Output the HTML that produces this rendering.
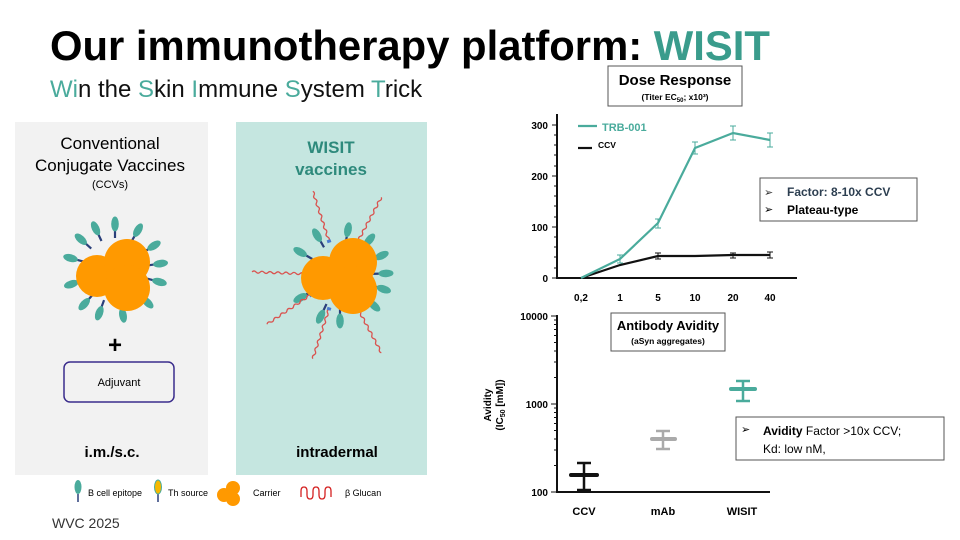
<!DOCTYPE html>
<html><head><meta charset="utf-8"><style>
body{margin:0;width:960px;height:540px;background:#fff;font-family:"Liberation Sans",sans-serif;overflow:hidden}
svg{position:absolute;left:0;top:0}
</style></head><body>
<svg width="960" height="540" viewBox="0 0 960 540" font-family="Liberation Sans, sans-serif">
<defs>
<g id="ep"><line x1="0" y1="-32" x2="0" y2="-40" stroke="#2a3f7a" stroke-width="2.2"/><ellipse cx="0" cy="-46" rx="3.8" ry="7.5" fill="#4aab9c"/></g>
<g id="gl"><path d="M0,-36 q2,-2 0,-4 q-2,-2 0,-4 q2,-2 0,-4 q-2,-2 0,-4 q2,-2 0,-4 q-2,-2 0,-4 q2,-2 0,-4 q-2,-2 0,-4 q2,-2 0,-4 q-2,-2 0,-4 q2,-2 0,-4 q-2,-2 0,-4 q2,-2 0,-4" fill="none" stroke="#d9534f" stroke-width="1.3"/><rect x="-2" y="-37" width="4" height="3" fill="#4a7bd0"/></g>
</defs>
<text x="50" y="60" font-size="41.8" font-weight="bold" fill="#000">Our immunotherapy platform: <tspan fill="#3a9c8c">WISIT</tspan></text>
<text x="50" y="97" font-size="24" fill="#111"><tspan fill="#4aab9c">Wi</tspan>n the <tspan fill="#4aab9c">S</tspan>kin <tspan fill="#4aab9c">I</tspan>mmune <tspan fill="#4aab9c">S</tspan>ystem <tspan fill="#4aab9c">T</tspan>rick</text>
<rect x="15" y="122" width="193" height="353" fill="#f2f2f2"/>
<rect x="236" y="122" width="191" height="353" fill="#c5e6e0"/>
<g text-anchor="middle">
<text x="110" y="149" font-size="17">Conventional</text>
<text x="110" y="171" font-size="17">Conjugate Vaccines</text>
<text x="110" y="188" font-size="11">(CCVs)</text>
<text x="115" y="353" font-size="24" font-weight="bold">+</text>
<text x="119" y="386" font-size="11">Adjuvant</text>
<text x="112" y="457" font-size="15" font-weight="bold">i.m./s.c.</text>
<text x="331" y="153" font-size="17" font-weight="bold" fill="#2e8a7c">WISIT</text>
<text x="331" y="175" font-size="17" font-weight="bold" fill="#2e8a7c">vaccines</text>
<text x="337" y="457" font-size="15" font-weight="bold">intradermal</text>
</g>
<rect x="64" y="362" width="110" height="40" rx="6" fill="none" stroke="#3b2d8c" stroke-width="1.5"/>
<g transform="translate(115,270)">
<use href="#ep" transform="rotate(0)"/><use href="#ep" transform="rotate(30)"/><use href="#ep" transform="rotate(58)"/><use href="#ep" transform="rotate(82)"/><use href="#ep" transform="rotate(105)"/><use href="#ep" transform="rotate(135)"/><use href="#ep" transform="rotate(170)"/><use href="#ep" transform="rotate(200)"/><use href="#ep" transform="rotate(222)"/><use href="#ep" transform="rotate(252)"/><use href="#ep" transform="rotate(285)"/><use href="#ep" transform="rotate(312)"/><use href="#ep" transform="rotate(335)"/>
<circle cx="-18" cy="6" r="21" fill="#ff9900"/><circle cx="12" cy="-8" r="23" fill="#ff9900"/><circle cx="12" cy="18" r="23" fill="#ff9900"/>
</g>
<g transform="translate(340,275)">
<use href="#ep" transform="rotate(10)"/><use href="#ep" transform="rotate(40)"/><use href="#ep" transform="rotate(65)"/><use href="#ep" transform="rotate(88)"/><use href="#ep" transform="rotate(108)"/><use href="#ep" transform="rotate(132)"/><use href="#ep" transform="rotate(180)"/><use href="#ep" transform="rotate(205)"/><use href="#ep" transform="rotate(240)"/><use href="#ep" transform="rotate(300)"/><use href="#ep" transform="rotate(330)"/>
<use href="#gl" transform="rotate(-18)"/><use href="#gl" transform="rotate(28)"/><use href="#gl" transform="rotate(152)"/><use href="#gl" transform="rotate(198)"/><use href="#gl" transform="rotate(236)"/><use href="#gl" transform="rotate(272)"/>
<circle cx="-17" cy="3" r="22" fill="#ff9900"/><circle cx="13" cy="-13" r="24" fill="#ff9900"/><circle cx="13" cy="15" r="24" fill="#ff9900"/>
</g>
<line x1="78" y1="494" x2="78" y2="502" stroke="#2a3f7a" stroke-width="1.5"/><ellipse cx="78" cy="487" rx="3.5" ry="7" fill="#4aab9c"/>
<text x="88" y="496" font-size="9">B cell epitope</text>
<line x1="158" y1="494" x2="158" y2="502" stroke="#2a3f7a" stroke-width="1.5"/><ellipse cx="158" cy="487" rx="3.5" ry="7" fill="#f5b800" stroke="#4aab9c" stroke-width="1"/>
<text x="168" y="496" font-size="9">Th source</text>
<circle cx="224" cy="495" r="7" fill="#ff9900"/><circle cx="233" cy="488" r="7" fill="#ff9900"/><circle cx="233" cy="499" r="7" fill="#ff9900"/>
<text x="253" y="496" font-size="9">Carrier</text>
<path d="M301,497 v-6 q0,-4 3,-4 q3,0 3,4 v4 q0,4 3,4 q3,0 3,-4 v-4 q0,-4 3,-4 q3,0 3,4 v4 q0,4 3,4 q3,0 3,-4 v-4 q0,-4 3,-4 q3,0 3,4 v6" fill="none" stroke="#d42020" stroke-width="1.3"/>
<text x="345" y="496" font-size="9">β Glucan</text>
<text x="52" y="528" font-size="14" fill="#333">WVC 2025</text>

<rect x="608" y="66" width="134" height="40" fill="#fff" stroke="#555" stroke-width="1"/>
<text x="675" y="85" font-size="15" font-weight="bold" text-anchor="middle">Dose Response</text>
<text x="675" y="100" font-size="8.5" font-weight="bold" text-anchor="middle">(Titer EC<tspan font-size="6" dy="2">50</tspan><tspan dy="-2">; x10³)</tspan></text>
<g stroke="#111" stroke-width="2">
<line x1="557" y1="114" x2="557" y2="279"/><line x1="556" y1="278" x2="797" y2="278"/>
</g>
<g stroke="#111" stroke-width="1">
<line x1="552" y1="125" x2="557" y2="125"/><line x1="552" y1="176" x2="557" y2="176"/><line x1="552" y1="227" x2="557" y2="227"/><line x1="552" y1="278" x2="557" y2="278"/>
<line x1="554" y1="135" x2="557" y2="135"/><line x1="554" y1="145" x2="557" y2="145"/><line x1="554" y1="155" x2="557" y2="155"/><line x1="554" y1="166" x2="557" y2="166"/><line x1="554" y1="186" x2="557" y2="186"/><line x1="554" y1="196" x2="557" y2="196"/><line x1="554" y1="206" x2="557" y2="206"/><line x1="554" y1="217" x2="557" y2="217"/><line x1="554" y1="237" x2="557" y2="237"/><line x1="554" y1="247" x2="557" y2="247"/><line x1="554" y1="257" x2="557" y2="257"/><line x1="554" y1="268" x2="557" y2="268"/>
</g>
<g font-size="10" font-weight="bold" text-anchor="end"><text x="548" y="129">300</text><text x="548" y="180">200</text><text x="548" y="231">100</text><text x="548" y="282">0</text></g>
<g font-size="10" font-weight="bold" text-anchor="middle"><text x="581" y="301">0,2</text><text x="620" y="301">1</text><text x="658" y="301">5</text><text x="695" y="301">10</text><text x="733" y="301">20</text><text x="770" y="301">40</text></g>
<polyline points="581,278 620,265 658,256 695,256 733,255 770,255" fill="none" stroke="#111" stroke-width="2.2"/>
<polyline points="581,278 620,259 658,223 695,148 733,133 770,140" fill="none" stroke="#4aab9c" stroke-width="2.2"/>
<g stroke="#4aab9c" stroke-width="1"><path d="M620,255v8M617,255h6M617,263h6M658,219v9M655,219h6M655,228h6M695,142v12M692,142h6M692,154h6M733,126v14M730,126h6M730,140h6M770,133v14M767,133h6M767,147h6"/></g>
<g stroke="#111" stroke-width="1"><path d="M658,253v6M655,253h6M655,259h6M733,253v5M730,253h6M730,258h6M770,252v6M767,252h6M767,258h6"/></g>
<line x1="578" y1="126" x2="597" y2="126" stroke="#4aab9c" stroke-width="2.2"/>
<text x="602" y="131" font-size="11" fill="#4aab9c" font-weight="bold">TRB-001</text>
<line x1="578" y1="148" x2="592" y2="148" stroke="#111" stroke-width="2.2"/>
<text x="598" y="148" font-size="8.5" font-weight="bold">CCV</text>
<rect x="760" y="178" width="157" height="43" fill="#fff" stroke="#555" stroke-width="1"/>
<text x="764" y="196" font-size="11" fill="#333">➢</text><text x="787" y="196" font-size="12" font-weight="bold" fill="#2c3e50">Factor: 8-10x CCV</text>
<text x="764" y="213" font-size="11">➢</text><text x="787" y="214" font-size="12" font-weight="bold">Plateau-type</text>

<g stroke="#111" stroke-width="2"><line x1="557" y1="315" x2="557" y2="493"/><line x1="556" y1="492" x2="770" y2="492"/></g>
<g stroke="#111" stroke-width="1">
<path d="M551,316h6M551,404h6M551,492h6M554,465.5h3M554,450h3M554,439h3M554,430.5h3M554,423.5h3M554,417.5h3M554,412.5h3M554,408h3M554,377.5h3M554,362h3M554,351h3M554,342.5h3M554,335.5h3M554,329.5h3M554,324.5h3M554,320h3"/>
</g>
<g font-size="10" font-weight="bold" text-anchor="end"><text x="548" y="320">10000</text><text x="548" y="408">1000</text><text x="548" y="496">100</text></g>
<text transform="translate(491,405) rotate(-90)" font-size="10" font-weight="bold" text-anchor="middle">Avidity</text>
<text transform="translate(503,405) rotate(-90)" font-size="10" font-weight="bold" text-anchor="middle">(IC<tspan font-size="7" dy="2">50</tspan><tspan dy="-2"> [mM])</tspan></text>
<g font-size="11" font-weight="bold" text-anchor="middle"><text x="584" y="515">CCV</text><text x="663" y="515">mAb</text><text x="742" y="515">WISIT</text></g>
<g stroke="#111" stroke-width="2.5"><path d="M584,463v27M577,463h14M577,490h14"/><line x1="571" y1="475" x2="597" y2="475" stroke-width="4" stroke-linecap="round"/></g>
<g stroke="#aaa" stroke-width="2.5"><path d="M663,431v18M656,431h14M656,449h14"/><line x1="652" y1="439" x2="675" y2="439" stroke-width="4" stroke-linecap="round"/></g>
<g stroke="#4aab9c" stroke-width="2.5"><path d="M743,381v20M736,381h14M736,401h14"/><line x1="731" y1="389" x2="755" y2="389" stroke-width="4" stroke-linecap="round"/></g>
<rect x="611" y="313" width="114" height="38" fill="#fff" stroke="#555" stroke-width="1"/>
<text x="668" y="330" font-size="13" font-weight="bold" text-anchor="middle">Antibody Avidity</text>
<text x="668" y="344" font-size="8.5" font-weight="bold" text-anchor="middle">(aSyn aggregates)</text>
<rect x="736" y="417" width="208" height="43" fill="#fff" stroke="#555" stroke-width="1"/>
<text x="741" y="433" font-size="11">➢</text>
<text x="763" y="435" font-size="12"><tspan font-weight="bold">Avidity</tspan> Factor &gt;10x CCV;</text>
<text x="763" y="453" font-size="12">Kd: low nM,</text>
</svg>
</body></html>
